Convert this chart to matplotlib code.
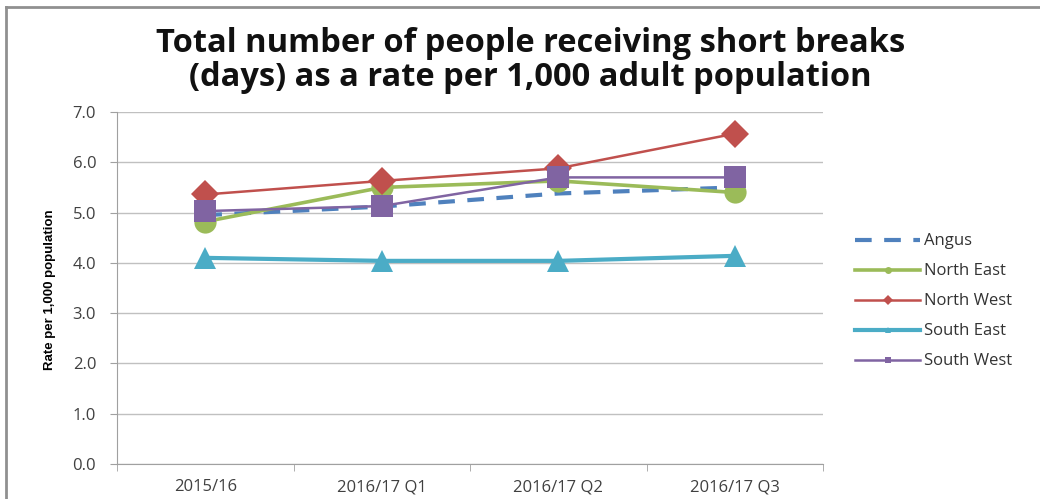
import matplotlib.pyplot as plt
from matplotlib.lines import Line2D

periods = ['2015/16', '2016/17 Q1', '2016/17 Q2', '2016/17 Q3']
angus = [4.95, 5.12, 5.38, 5.50]
north_east = [4.82, 5.50, 5.63, 5.40]
north_west = [5.36, 5.63, 5.88, 6.57]
south_east = [4.10, 4.04, 4.04, 4.14]
south_west = [5.03, 5.13, 5.70, 5.70]

plt.rcParams['font.family'] = ['Open Sans', 'DejaVu Sans']

fig = plt.figure(figsize=(10.4, 4.99), dpi=100)
ax = fig.add_axes([0.1125, 0.0701, 0.679, 0.7054])

x = range(len(periods))
series = [
    ('Angus', angus, '#4F81BD', None, 3.0, (0, (4, 3))),
    ('North East', north_east, '#9BBB59', 'o', 2.6, '-'),
    ('North West', north_west, '#C0504D', 'D', 1.8, '-'),
    ('South East', south_east, '#4BACC6', '^', 3.0, '-'),
    ('South West', south_west, '#8064A2', 's', 1.8, '-'),
]
handles = []
for name, vals, col, mk, lw, ls in series:
    ax.plot(x, vals, color=col, lw=lw, linestyle=ls, marker=mk,
            markersize=16 if mk != 'D' else 14, markeredgewidth=0,
            clip_on=False)
    handles.append(Line2D([], [], color=col, lw=lw, linestyle=ls, marker=mk,
                          markersize=5, markeredgewidth=0, label=name))

ax.set_xlim(-0.5, 3.5)
ax.set_ylim(0, 7)
ax.set_yticks([i for i in range(8)])
ax.set_yticklabels(['%.1f' % i for i in range(8)])
ax.set_xticks(list(x))
ax.set_xticklabels(periods)
ax.set_xticks([-0.5, 0.5, 1.5, 2.5, 3.5], minor=True)
ax.tick_params(axis='x', which='major', length=0, pad=11, labelsize=12,
               labelcolor='#404040')
ax.tick_params(axis='x', which='minor', length=5, color='#a0a0a0')
ax.tick_params(axis='y', length=5, color='#a0a0a0', labelsize=12,
               labelcolor='#404040', pad=10)
ax.grid(axis='y', color='#c0c0c0', lw=1)
ax.set_axisbelow(True)
for s in ['top', 'right']:
    ax.spines[s].set_visible(False)
for s in ['left', 'bottom']:
    ax.spines[s].set_color('#a0a0a0')

fig.text(0.048, 0.419, 'Rate per 1,000 population', rotation=90,
         ha='center', va='center', fontsize=9.5, fontweight='bold',
         family=['Liberation Sans', 'DejaVu Sans'])

fig.text(0.51, 0.946, 'Total number of people receiving short breaks\n'
         '(days) as a rate per 1,000 adult population',
         ha='center', va='top', fontsize=23.5, fontweight='bold',
         linespacing=1.05, color='#111111')

ax.legend(handles=handles, loc='center left', bbox_to_anchor=(1.024, 0.462),
          frameon=False, fontsize=12, labelcolor='#333333',
          handlelength=3.9, handletextpad=0.25, labelspacing=0.84)

# chart frame on the left and top edges
fig.add_artist(Line2D([0.006, 0.006], [0, 0.986], color='#909090', lw=2))
fig.add_artist(Line2D([0.006, 1], [0.986, 0.986], color='#909090', lw=2))

fig.savefig('out.png', dpi=100)
